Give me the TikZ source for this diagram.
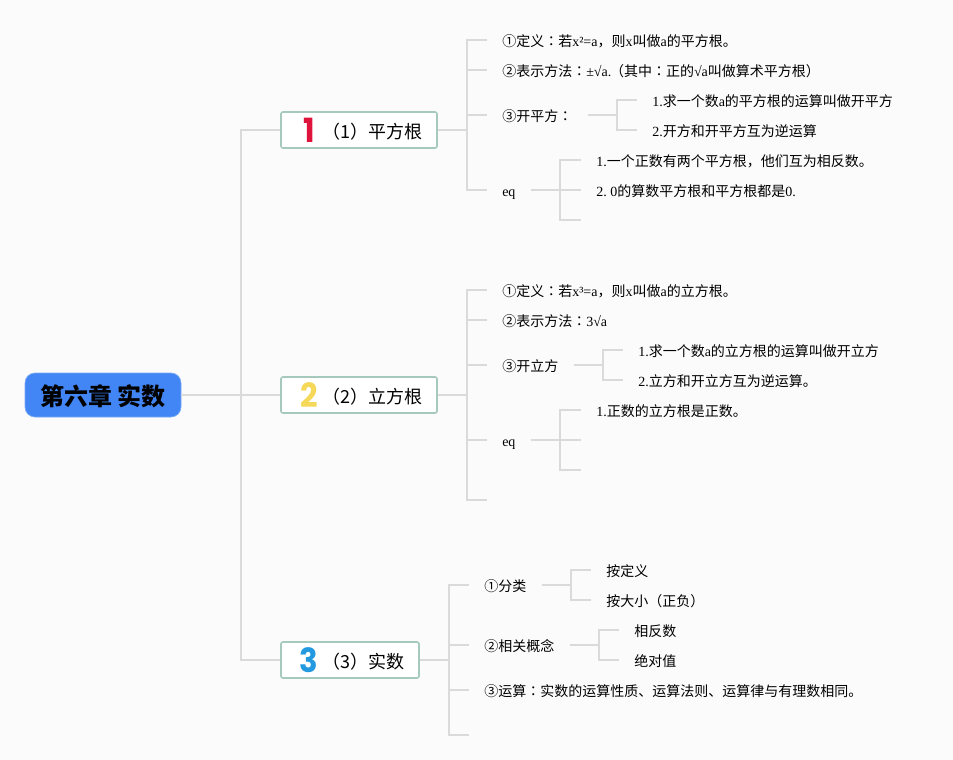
\documentclass[tikz,border=0pt]{standalone}
\usepackage{fontspec}
\setmainfont{Noto Sans CJK SC}
\newfontfamily\enfont{Liberation Serif}
\newfontfamily\twfont{Noto Sans CJK TC}
\newfontfamily\numfont{Poppins}
\usepackage{tikz}
\usetikzlibrary{positioning}
\definecolor{pagebg}{RGB}{251,251,252}
\definecolor{linegrey}{RGB}{218,218,218}
\definecolor{rootblue}{RGB}{66,133,244}
\definecolor{rootedge}{RGB}{120,170,245}
\definecolor{boxedge}{RGB}{165,201,189}
\definecolor{numred}{RGB}{222,20,60}
\definecolor{numyellow}{RGB}{245,216,88}
\definecolor{numblue}{RGB}{35,153,224}
\newcommand{\en}[1]{{\enfont #1}}
\newcommand{\cm}{{\twfont ：}}
\tikzset{
  root/.style={rectangle, rounded corners=7.5pt, draw=rootedge, fill=rootblue, line width=0.5pt, minimum width=117pt, minimum height=33pt, inner sep=0pt, font=\fontsize{18}{20}\selectfont\bfseries, text=black},
  topic/.style={rectangle, rounded corners=1.5pt, draw=boxedge, fill=white, line width=1.2pt, minimum height=27pt, inner sep=0pt},
  topictext/.style={inner sep=0pt, anchor=east, font=\fontsize{13.5}{16}\selectfont, text=black},
  bignum/.style={inner sep=0pt, xscale=0.92, font=\fontsize{25}{28}\selectfont\numfont\bfseries},
  leaf/.style={anchor=west, inner xsep=11.25pt, inner ysep=0pt, text height=10.9pt, text depth=0.65pt, font=\fontsize{10.5}{12}\selectfont, text=black},
  link/.style={draw=linegrey, line width=1.5pt},
}

\begin{document}
\begin{tikzpicture}[x=0.75pt,y=-0.75pt]
  \useasboundingbox[fill=pagebg] (0,0) rectangle (953,760);
  \node[root,text height=15pt,text depth=0pt] (r) at (103,395) {第六章 实数};
  \node[topic,minimum width=117pt] (s1) at (359,130) {};
  \node[topic,minimum width=117pt] (s2) at (359,395) {};
  \node[topic,minimum width=103.5pt] (s3) at (350,660) {};
  \node[bignum,text=numred] (n1) at (309,130) {1};
  \node[bignum,text=numyellow] (n2) at (309,395) {2};
  \node[bignum,text=numblue] (n3) at (309,660) {3};
  \node[topictext] (t1) at (423,131.5) {（1）平方根};
  \node[topictext] (t2) at (423,396.5) {（2）立方根};
  \node[topictext] (t3) at (405,661.5) {（3）实数};
  \foreach \a in {s1,s2,s3}{\draw[link] (r.east) -- ++(60,0) |- (\a.west);}
  % first branch
  \node[leaf] (a1) at (487,40) {①定义\cm 若\en{x²=a}，则\en{x}叫做\en{a}的平方根。};
  \node[leaf] (a2) at (487,70) {②表示方法\cm \en{±√a.}\hspace{-1pt}（其中\cm 正的\en{√a}叫做算术平方根）};
  \node[leaf] (a3) at (487,115) {③开平方\cm};
  \node[leaf] (a4) at (487,190) {\en{eq}};
  \node[leaf] (a31) at (637,100) {\en{1.}求一个数\en{a}的平方根的运算叫做开平方};
  \node[leaf] (a32) at (637,130) {\en{2.}开方和开平方互为逆运算};
  \node[leaf] (a41) at (581,160) {\en{1.}一个正数有两个平方根，他们互为相反数。};
  \node[leaf] (a42) at (581,190) {\en{2.\hspace{-0.75pt} 0}的算数平方根和平方根都是\en{0.}};
  \coordinate (a43) at (581,220);
  \foreach \a in {a1,a2,a3,a4}{\draw[link] (s1.east) -- ++(29.5,0) |- (\a.west);}
  \foreach \a in {a31,a32}{\draw[link] (a3.east) -- ++(29.5,0) |- (\a.west);}
  \foreach \a in {a41,a42}{\draw[link] (a4.east) -- ++(29.5,0) |- (\a.west);}
  \draw[link] (a4.east) -- ++(29.5,0) |- (a43);
  % second branch
  \node[leaf] (b1) at (487,290) {①定义\cm 若\en{x³=a}，则\en{x}叫做\en{a}的立方根。};
  \node[leaf] (b2) at (487,320) {②表示方法\cm \en{3√a}};
  \node[leaf] (b3) at (487,365) {③开立方};
  \node[leaf] (b4) at (487,440) {\en{eq}};
  \coordinate (b5) at (487,500);
  \node[leaf] (b31) at (623,350) {\en{1.}求一个数\en{a}的立方根的运算叫做开立方};
  \node[leaf] (b32) at (623,380) {\en{2.}立方和开立方互为逆运算。};
  \node[leaf] (b41) at (581,410) {\en{1.}正数的立方根是正数。};
  \coordinate (b42) at (581,440);
  \coordinate (b43) at (581,470);
  \foreach \a in {b1,b2,b3,b4}{\draw[link] (s2.east) -- ++(29.5,0) |- (\a.west);}
  \draw[link] (s2.east) -- ++(29.5,0) |- (b5);
  \foreach \a in {b31,b32}{\draw[link] (b3.east) -- ++(29.5,0) |- (\a.west);}
  \draw[link] (b4.east) -- ++(29.5,0) |- (b41.west);
  \foreach \a in {b42,b43}{\draw[link] (b4.east) -- ++(29.5,0) |- (\a);}
  % third branch
  \node[leaf] (c1) at (469,585) {①分类};
  \node[leaf] (c2) at (469,645) {②相关概念};
  \node[leaf] (c3) at (469,690) {③运算\cm 实数的运算性质、运算法则、运算律与有理数相同。};
  \coordinate (c4) at (469,735);
  \node[leaf] (c11) at (591,570) {按定义};
  \node[leaf] (c12) at (591,600) {按大小（正负）};
  \node[leaf] (c21) at (619,630) {相反数};
  \node[leaf] (c22) at (619,660) {绝对值};
  \foreach \a in {c1,c2,c3}{\draw[link] (s3.east) -- ++(29.5,0) |- (\a.west);}
  \draw[link] (s3.east) -- ++(29.5,0) |- (c4);
  \foreach \a in {c11,c12}{\draw[link] (c1.east) -- ++(29.5,0) |- (\a.west);}
  \foreach \a in {c21,c22}{\draw[link] (c2.east) -- ++(29.5,0) |- (\a.west);}
\end{tikzpicture}
\end{document}
